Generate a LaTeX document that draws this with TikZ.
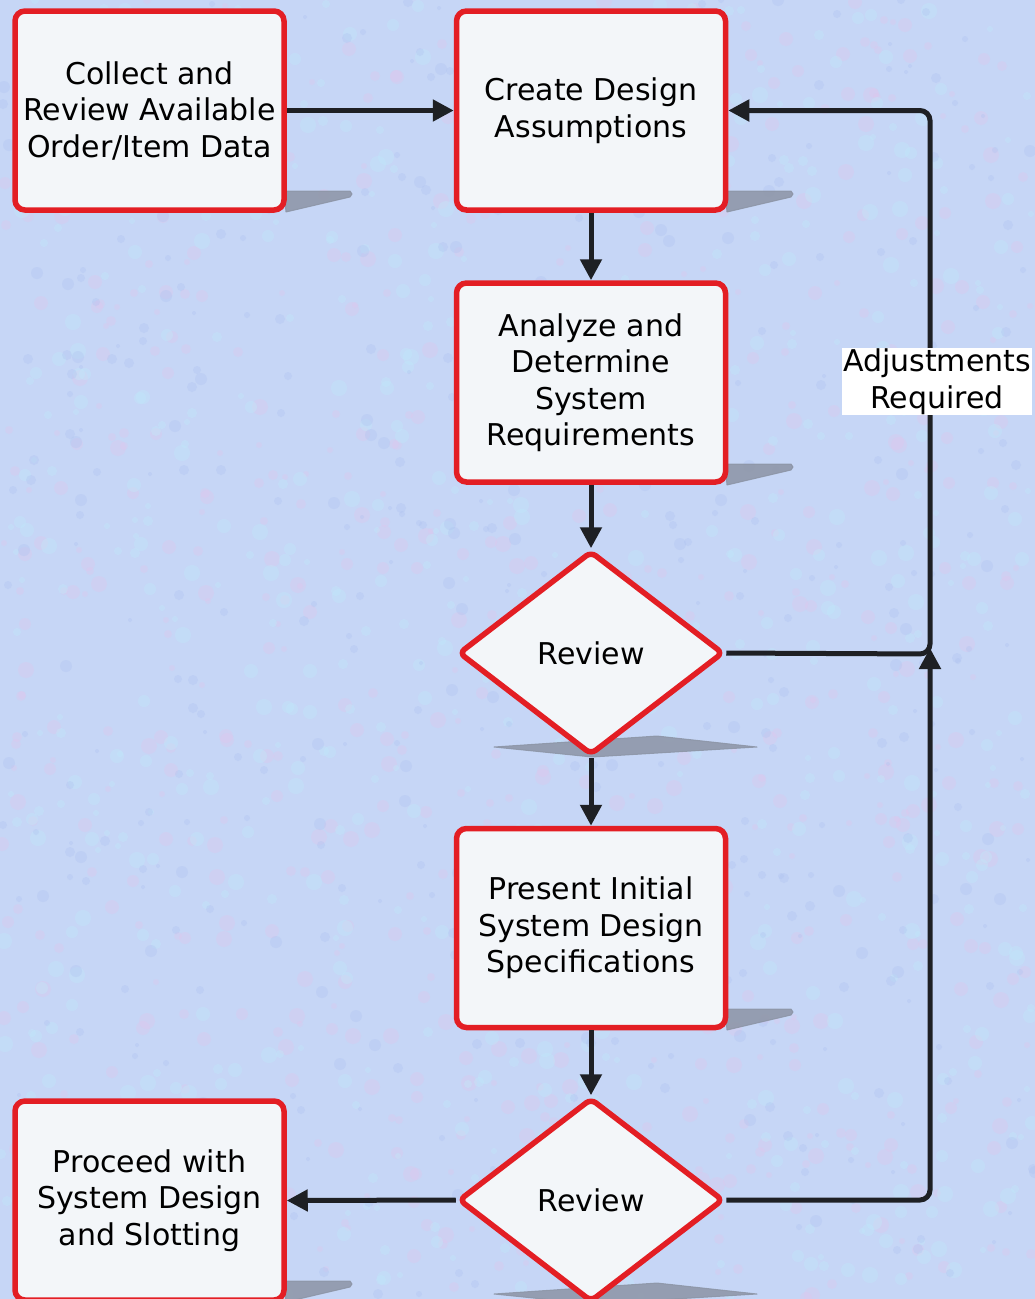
\documentclass[tikz,border=0pt]{standalone}
\usepackage{fontspec}
\setmainfont{DejaVu Sans}
\usetikzlibrary{arrows.meta,shapes.geometric}
\definecolor{bgc}{RGB}{198,214,246}
\definecolor{texpink}{RGB}{226,196,236}
\definecolor{texcyan}{RGB}{192,234,250}
\definecolor{texblue}{RGB}{172,192,240}
\definecolor{boxred}{RGB}{227,30,36}
\definecolor{boxfill}{RGB}{243,246,249}
\definecolor{linec}{RGB}{30,32,36}
\definecolor{shadc}{RGB}{140,148,165}
\begin{document}
\begin{tikzpicture}[x=1pt,y=-1pt,
  txt/.style={font=\fontsize{30}{36.5}\selectfont},
  stepbox/.style={txt, draw=boxred, line width=5.5pt, fill=boxfill, rounded corners=10pt,
    minimum width=269pt, minimum height=199pt, inner sep=2pt, align=center},
  decision/.style={txt, diamond, draw=boxred, line width=5.5pt, fill=boxfill, rounded corners=6pt,
    minimum width=265pt, minimum height=204pt, inner sep=0pt},
  flow/.style={draw=linec, line width=5pt, -{Triangle[length=21pt,width=21pt]}, rounded corners=10pt},
  shad/.style={fill=shadc, draw=shadc, line width=1pt, line join=round, opacity=0.85},
  lbl/.style={txt, fill=white, inner sep=1pt, align=center}
]
\useasboundingbox (0,0) rectangle (1035,1299);
% background
\fill[bgc] (0,0) rectangle (1035,1299);
\pgfmathsetseed{11}
\begin{scope}
\clip (0,0) rectangle (1035,1299);
\foreach \i in {1,...,700} {
  \pgfmathsetmacro\rx{random(0,1035)}
  \pgfmathsetmacro\ry{random(0,1299)}
  \pgfmathsetmacro\rr{random(3,8)}
  \fill[texpink, opacity=0.3] (\rx,\ry) circle[radius=\rr];
}
\foreach \i in {1,...,700} {
  \pgfmathsetmacro\rx{random(0,1035)}
  \pgfmathsetmacro\ry{random(0,1299)}
  \pgfmathsetmacro\rr{random(3,8)}
  \fill[texcyan, opacity=0.35] (\rx,\ry) circle[radius=\rr];
}
\foreach \i in {1,...,500} {
  \pgfmathsetmacro\rx{random(0,1035)}
  \pgfmathsetmacro\ry{random(0,1299)}
  \pgfmathsetmacro\rr{random(2,6)}
  \fill[texblue, opacity=0.3] (\rx,\ry) circle[radius=\rr];
}
\end{scope}
% shadows of boxes
\foreach \xr/\yb in {286/212, 727/212, 727/485, 727/1030, 286/1302} {
  \fill[shad] (\xr-2,\yb-21) -- (\xr+64,\yb-21) -- (\xr+66,\yb-18) -- (\xr+64,\yb-15) -- (\xr,\yb) -- cycle;
}
% shadows of diamonds
\foreach \dy in {0, 547} {
  \fill[shad] (494,747+\dy) -- (657,736+\dy) -- (757,747+\dy) -- (592,757+\dy) -- cycle;
}
% nodes
\node[stepbox] (collect) at (149.5,110.5) {Collect and\\Review Available\\Order/Item Data};
\node[stepbox] (create) at (591,110.5) {Create Design\\Assumptions};
\node[stepbox] (analyze) at (591,382.5) {Analyze and\\Determine\\System\\Requirements};
\node[decision] (review1) at (591,653) {Review};
\node[stepbox] (present) at (591,928) {Present Initial\\System Design\\Specifications};
\node[decision] (review2) at (591,1200) {Review};
\node[stepbox] (proceed) at (149.5,1200.5) {Proceed with\\System Design\\and Slotting};
\coordinate (jtop) at (930,110.5);
\coordinate (jmid) at (930,654);
\coordinate (jtip) at (930,648);
\coordinate (jbot) at (930,1200);
% connectors
\draw[flow] (collect.east) -- (create.west);
\draw[flow] (create.south) -- (analyze.north);
\draw[flow] (analyze.south) -- (review1.north);
\draw[flow] (review1.south) -- (present.north);
\draw[flow] (present.south) -- (review2.north);
\draw[flow] (review2.west) -- (proceed.east);
\draw[flow] (review1.east) -- (jmid) -- (jtop) -- (create.east);
\draw[flow] (review2.east) -- (jbot) -- (jtip);
\node[lbl] (adj) at (937,381.5) {Adjustments\\Required};
\end{tikzpicture}
\end{document}
